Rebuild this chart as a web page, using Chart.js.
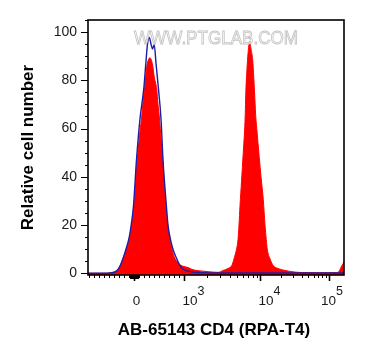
<!DOCTYPE html>
<html><head><meta charset="utf-8">
<script src="https://cdn.jsdelivr.net/npm/chart.js@4/dist/chart.umd.min.js"></script>
<style>html,body{margin:0;padding:0;background:#fff;}canvas{display:block;}</style>
</head><body>
<canvas id="c" width="365" height="360"></canvas>
<script>
// ---- text ----
const xTitle = 'AB-65143 CD4 (RPA-T4)';
const yTitle = 'Relative cell number';
const watermarkText = 'WWW.PTGLAB.COM';

// ---- tick labels ----
const yTickValues = [0, 20, 40, 60, 80, 100];
const xTickValues = [0, 1000, 10000, 100000];
const xTickBase = ['0', '10', '10', '10'];
const xTickExp = ['', '3', '4', '5'];

// ---- histograms (x = display channel 0..1024, y = relative count) ----
const controlChannel = [0, 68, 96, 108, 120, 128, 141, 155, 165, 172, 182, 194, 208, 224, 232, 238, 245, 252, 258, 265, 272, 281, 292, 300, 312, 320, 332, 344, 355, 368, 380, 395, 420, 448, 528, 688, 848, 1024];
const controlCount   = [0, 0, 0.3, 0.6, 1.6, 3.0, 6.5, 11, 15, 19.5, 28, 47, 64, 77.4, 88, 95, 97.8, 95, 93, 94.8, 87, 77.4, 64, 47, 30, 20, 13, 8.7, 6, 3.2, 1.8, 1, 0.5, 0.3, 0.1, 0.1, 0.1, 0.1];

const sampleChannel = [0, 68, 88, 96, 108, 120, 128, 141, 155, 166, 175, 184, 197, 206, 214, 221, 228, 235, 240, 246, 252, 259, 264, 275, 280, 286, 292, 299, 308, 319, 328, 336, 344, 355, 368, 384, 400, 416, 440, 468, 500, 520, 541, 560, 575, 584, 594, 600, 604, 608, 614, 621, 628, 632, 636, 640, 646, 652, 659, 665, 671, 675, 685, 692, 701, 708, 713, 717, 728, 741, 760, 788, 828, 868, 928, 992, 1004, 1012, 1020, 1024];
const sampleCount   = [0, 0, 0.2, 0.3, 0.6, 1.6, 3.0, 6.3, 10.5, 14.8, 20, 28, 47, 57, 64, 72, 78, 85.7, 88, 89.3, 88.8, 86, 82, 76, 70, 64, 56, 47, 32, 20, 14, 10, 7, 5, 3.5, 2.8, 2.4, 1.6, 1.1, 0.8, 0.5, 0.4, 1.2, 2, 3.2, 6, 10, 14, 20, 28, 38, 50, 63, 77, 85, 91, 96, 93, 88, 77.4, 65, 60, 48, 40, 30.7, 20, 14, 10, 6, 3.2, 2, 1.2, 0.5, 0.3, 0.2, 0.3, 0.8, 2.5, 4, 5];

// biexponential-style display transform: value -> display channel
function valueToChannel(v) {
  if (Math.abs(v) <= 1000) return 184 + v * 0.199;
  const l = Math.log10(v);
  if (l <= 4) return 383 + (l - 3) * 305;
  return 688 + (l - 4) * 276;
}

function pts(xs, ys) { return xs.map((x, i) => ({ x: x, y: ys[i] })); }

const FONT = '"Liberation Sans", Arial, Helvetica, sans-serif';

const axesPlugin = {
  id: 'flowAxes',
  afterDatasetsDraw(chart) {
    const { ctx, chartArea: a, scales: { x, y } } = chart;
    ctx.save();
    // watermark
    ctx.font = '19px ' + FONT;
    ctx.textAlign = 'center';
    ctx.textBaseline = 'alphabetic';
    ctx.fillStyle = 'rgba(255,255,255,0.9)';
    ctx.strokeStyle = '#c4c4c4';
    ctx.lineWidth = 0.9;
    const wcx = (a.left + a.right) / 2;
    ctx.fillText(watermarkText, wcx, a.top + 24, 164);
    ctx.strokeText(watermarkText, wcx, a.top + 24, 164);

    // frame
    ctx.strokeStyle = '#000';
    ctx.lineWidth = 1.6;
    ctx.strokeRect(a.left, a.top, a.right - a.left, a.bottom - a.top);

    // y ticks
    ctx.lineWidth = 1;
    for (let v = 0; v <= 105; v += 5) {
      const py = Math.round(y.getPixelForValue(v)) + 0.5;
      const len = (v % 20 === 0) ? 7 : 3;
      ctx.beginPath(); ctx.moveTo(a.left - len, py); ctx.lineTo(a.left, py); ctx.stroke();
    }
    ctx.fillStyle = '#1a1a1a';
    ctx.font = '14px ' + FONT;
    ctx.textAlign = 'right';
    ctx.textBaseline = 'middle';
    yTickValues.forEach(v => ctx.fillText(String(v), a.left - 11, y.getPixelForValue(v)));

    // x minor ticks
    const minors = [];
    for (let k = 1; k <= 9; k++) {
      minors.push([k * 10, 4], [-k * 10, 4], [-k * 100, 3], [k * 100, 3], [k * 1000, 3], [k * 10000, 3], [k * 100000, 3]);
    }
    minors.forEach(([v, len]) => {
      if ([1000, 10000, 100000].includes(v)) return;
      const px = Math.round(x.getPixelForValue(valueToChannel(v))) + 0.5;
      if (px < a.left || px > a.right) return;
      ctx.beginPath(); ctx.moveTo(px, a.bottom); ctx.lineTo(px, a.bottom + len); ctx.stroke();
    });
    // x major ticks + labels
    xTickValues.forEach((v, i) => {
      const px = Math.round(x.getPixelForValue(valueToChannel(v))) + 0.5;
      ctx.lineWidth = 1.6;
      ctx.beginPath(); ctx.moveTo(px, a.bottom); ctx.lineTo(px, a.bottom + 6); ctx.stroke();
      ctx.textBaseline = 'alphabetic';
      ctx.textAlign = 'left';
      ctx.font = '13.5px ' + FONT;
      const wb = ctx.measureText(xTickBase[i]).width;
      ctx.font = '12.5px ' + FONT;
      const we = xTickExp[i] ? ctx.measureText(xTickExp[i]).width : 0;
      let x0 = xTickExp[i] ? px - 2 : px - wb / 2 + 2;
      if (x0 + wb + we > a.right - 1) x0 = a.right - 1 - wb - we;
      ctx.font = '13.5px ' + FONT;
      ctx.fillText(xTickBase[i], x0, 305);
      if (xTickExp[i]) {
        ctx.font = '12.5px ' + FONT;
        ctx.fillText(xTickExp[i], x0 + wb, 295);
      }
    });

    // axis titles
    ctx.fillStyle = '#000';
    ctx.font = 'bold 17px ' + FONT;
    ctx.textAlign = 'center';
    ctx.textBaseline = 'middle';
    ctx.fillText(xTitle, (a.left + a.right) / 2 - 2, 330);
    ctx.save();
    ctx.translate(28, (a.top + a.bottom) / 2);
    ctx.rotate(-Math.PI / 2);
    ctx.fillText(yTitle, 0, 0);
    ctx.restore();
    ctx.restore();
  }
};

new Chart(document.getElementById('c'), {
  type: 'line',
  data: {
    datasets: [
      {
        label: 'Control',
        data: pts(controlChannel, controlCount),
        borderColor: '#1c1ca6',
        borderWidth: 1.4,
        fill: false,
        pointRadius: 0,
        cubicInterpolationMode: 'monotone'
      },
      {
        label: 'AB-65143 CD4',
        data: pts(sampleChannel, sampleCount),
        borderColor: '#ff0000',
        backgroundColor: '#ff0000',
        borderWidth: 1,
        fill: 'start',
        pointRadius: 0,
        cubicInterpolationMode: 'monotone'
      }
    ]
  },
  options: {
    responsive: false,
    animation: false,
    devicePixelRatio: 1,
    layout: { padding: { left: 88, top: 20, right: 21, bottom: 85 } },
    plugins: { legend: { display: false }, tooltip: { enabled: false } },
    scales: {
      x: { type: 'linear', min: 0, max: 1024, display: false },
      y: { type: 'linear', min: -0.7, max: 105, display: false }
    }
  },
  plugins: [axesPlugin]
});
</script>
</body></html>
